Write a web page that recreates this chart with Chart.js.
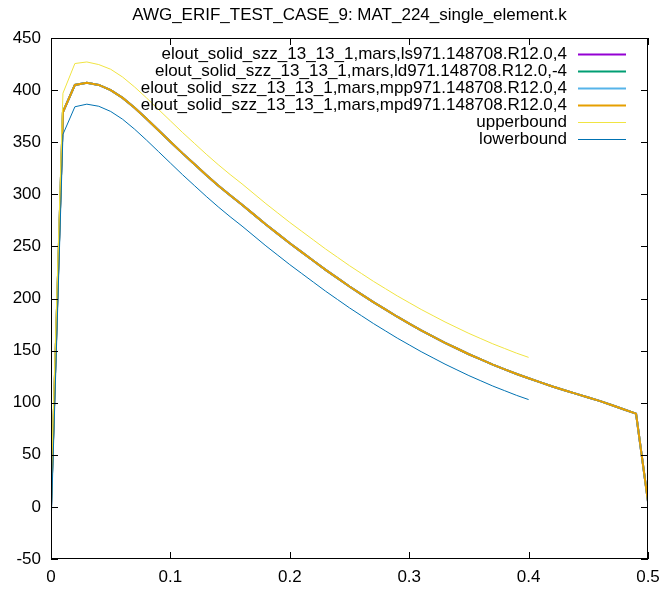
<!DOCTYPE html>
<html>
<head>
<meta charset="utf-8">
<script src="https://cdn.jsdelivr.net/npm/chart.js@4/dist/chart.umd.min.js"></script>
<style>
  html, body { margin: 0; padding: 0; background: #fff; }
  #wrap { width: 662px; height: 590px; }
</style>
</head>
<body>
<div id="wrap"><canvas id="kChart" width="662" height="590"></canvas></div>
<script>
// AWG_ERIF_TEST_CASE_9 - sigma zz, element 13 (gnuplot look)
const titleText = 'AWG_ERIF_TEST_CASE_9: MAT_224_single_element.k';

const seriesNames = [
  'elout_solid_szz_13_13_1,mars,ls971.148708.R12.0,4',
  'elout_solid_szz_13_13_1,mars,ld971.148708.R12.0,-4',
  'elout_solid_szz_13_13_1,mars,mpp971.148708.R12.0,4',
  'elout_solid_szz_13_13_1,mars,mpd971.148708.R12.0,4',
  'upperbound',
  'lowerbound'
];
const seriesColors = ['#9400d3', '#009e73', '#56b4e9', '#e69f00', '#f0e442', '#0072b2'];

// time axis (0 .. 0.5 step 0.01)
const timeVals = [
  0, 0.01, 0.02, 0.03, 0.04, 0.05, 0.06, 0.07, 0.08, 0.09,
  0.10, 0.11, 0.12, 0.13, 0.14, 0.15, 0.16, 0.17, 0.18, 0.19,
  0.20, 0.21, 0.22, 0.23, 0.24, 0.25, 0.26, 0.27, 0.28, 0.29,
  0.30, 0.31, 0.32, 0.33, 0.34, 0.35, 0.36, 0.37, 0.38, 0.39,
  0.40, 0.41, 0.42, 0.43, 0.44, 0.45, 0.46, 0.47, 0.48, 0.49, 0.50
];

// the four solver runs lie on top of each other
const szzVals = [
  0, 379, 405, 407, 405, 400, 392.5, 383, 372.5, 361.5,
  350.5, 339.5, 329, 318.5, 308.5, 299, 290, 280.5, 271, 262,
  253, 244.5, 236, 227.5, 219.5, 211.5, 204, 196.5, 189.5, 182.5,
  176, 169.5, 163.5, 157.5, 152, 146.5, 141.5, 136.5, 132, 127.5,
  123.5, 119.5, 115.5, 112, 108.5, 105, 101.5, 97.5, 93.5, 89.5, 5
];

// bounds only go to t = 0.4
const upperVals = [
  20, 397, 425.5, 427, 424.5, 420, 412.5, 403, 392.5, 381.5,
  370.5, 359.5, 349, 338.5, 328.5, 319, 310, 300.5, 291, 282,
  273, 264.5, 256, 247.5, 239.5, 231.5, 224, 216.5, 209.5, 202.5,
  196, 189.5, 183.5, 177.5, 172, 166.5, 161.5, 156.5, 152, 147.5, 143.5
];
const lowerVals = [
  -20, 357.5, 384, 386.5, 384.5, 379.5, 372, 362.5, 352, 341,
  330, 319, 308.5, 298, 288, 278.5, 269.5, 260, 250.5, 241.5,
  232.5, 224, 215.5, 207, 199, 191, 183.5, 176, 169, 162,
  155.5, 149, 143, 137, 131.5, 126, 121, 116, 111.5, 107, 103
];

const xTicks = [0, 0.1, 0.2, 0.3, 0.4, 0.5];
const yTicks = [-50, 0, 50, 100, 150, 200, 250, 300, 350, 400, 450];

const FONT = '"Liberation Sans", Arial, sans-serif';

function pts(vals) {
  return vals.map((v, i) => ({ x: timeVals[i], y: v }));
}

const seriesVals = [szzVals, szzVals, szzVals, szzVals, upperVals, lowerVals];

const datasets = seriesNames.map((name, i) => ({
  label: name,
  data: pts(seriesVals[i]),
  borderColor: seriesColors[i],
  backgroundColor: seriesColors[i],
  borderWidth: i < 4 ? 2 : 1,
  pointRadius: 0,
  tension: 0,
  fill: false,
  order: 6 - i   // gnuplot draws later curves on top
}));

// box, inward ticks on all four sides, title and gnuplot style key
const gnuplotDeco = {
  id: 'gnuplotDeco',
  afterDatasetsDraw(chart) {
    const ctx = chart.ctx;
    const a = chart.chartArea;
    const xs = chart.scales.x, ys = chart.scales.y;
    const tl = 7;
    ctx.save();
    ctx.strokeStyle = '#000';
    ctx.lineWidth = 1;
    ctx.beginPath();
    yTicks.forEach(v => {
      const py = Math.round(ys.getPixelForValue(v)) + 0.5;
      ctx.moveTo(a.left, py); ctx.lineTo(a.left + tl, py);
      ctx.moveTo(a.right, py); ctx.lineTo(a.right - tl, py);
    });
    xTicks.forEach(v => {
      const px = Math.round(xs.getPixelForValue(v)) + 0.5;
      ctx.moveTo(px, a.bottom); ctx.lineTo(px, a.bottom - tl);
      ctx.moveTo(px, a.top); ctx.lineTo(px, a.top + tl);
    });
    ctx.stroke();
    ctx.strokeRect(a.left + 0.5, a.top + 0.5, a.right - a.left - 1, a.bottom - a.top - 1);

    // title
    ctx.fillStyle = '#000';
    ctx.font = '17px ' + FONT;
    ctx.textAlign = 'center';
    ctx.textBaseline = 'middle';
    ctx.fillText(titleText, (a.left + a.right) / 2, 15);

    // key
    ctx.textAlign = 'right';
    chart.data.datasets.forEach((ds, i) => {
      const y = a.top + 16 + i * 17;
      ctx.fillStyle = '#000';
      ctx.fillText(ds.label, a.right - 81, y);
      ctx.strokeStyle = ds.borderColor;
      ctx.lineWidth = ds.borderWidth;
      ctx.beginPath();
      ctx.moveTo(a.right - 70, Math.round(y) + 0.5);
      ctx.lineTo(a.right - 22, Math.round(y) + 0.5);
      ctx.stroke();
    });
    ctx.restore();
  }
};

const config = {
  type: 'line',
  data: { datasets: datasets },
  options: {
    responsive: false,
    animation: false,
    layout: { padding: { top: 38, right: 14, left: 0, bottom: 0 } },
    plugins: {
      legend: { display: false },
      title: { display: false },
      tooltip: { enabled: false }
    },
    scales: {
      x: {
        type: 'linear',
        min: 0,
        max: 0.5,
        afterFit: s => { s.height = 31; s.paddingLeft = 0; s.paddingRight = 0; },
        afterBuildTicks: s => { s.ticks = xTicks.map(v => ({ value: v })); },
        grid: { display: false, drawTicks: false },
        border: { display: false },
        ticks: {
          color: '#000',
          padding: 8,
          maxRotation: 0,
          font: { family: FONT, size: 17 },
          callback: v => String(v)
        }
      },
      y: {
        type: 'linear',
        min: -50,
        max: 450,
        afterFit: s => { s.width = 51; s.paddingTop = 0; s.paddingBottom = 0; },
        afterBuildTicks: s => { s.ticks = yTicks.map(v => ({ value: v })); },
        grid: { display: false, drawTicks: false },
        border: { display: false },
        ticks: {
          color: '#000',
          padding: 10,
          font: { family: FONT, size: 17 },
          callback: v => String(v)
        }
      }
    }
  },
  plugins: [gnuplotDeco]
};

const kChart = new Chart(document.getElementById('kChart'), config);
</script>
</body>
</html>
